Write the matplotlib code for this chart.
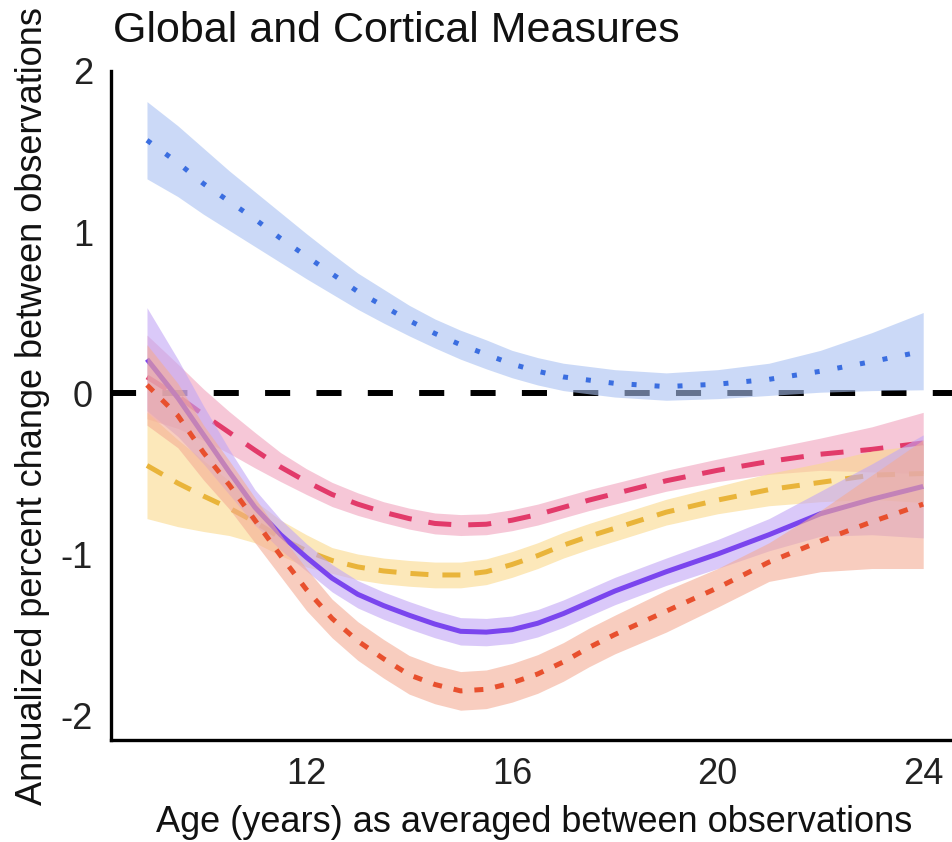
import matplotlib
matplotlib.use("Agg")
import matplotlib.pyplot as plt

plt.rcParams['font.family'] = ['Liberation Sans', 'DejaVu Sans']

ages = [8.9, 9.5, 10, 10.5, 11, 11.5, 12, 12.5, 13, 13.5, 14, 14.5, 15, 15.5, 16,
        16.5, 17, 17.5, 18, 19, 20, 21, 22, 23, 24]

blue_mean = [1.57, 1.43, 1.30, 1.19, 1.08, 0.96, 0.85, 0.74, 0.63, 0.54, 0.45, 0.37, 0.30, 0.24, 0.18,
             0.135, 0.10, 0.08, 0.06, 0.04, 0.055, 0.085, 0.135, 0.195, 0.26]
blue_upper = [1.81, 1.66, 1.52, 1.38, 1.25, 1.12, 0.99, 0.865, 0.745, 0.645, 0.545, 0.46, 0.39, 0.33, 0.265,
              0.22, 0.185, 0.165, 0.145, 0.125, 0.145, 0.185, 0.265, 0.375, 0.50]
blue_lower = [1.33, 1.22, 1.11, 1.01, 0.91, 0.81, 0.71, 0.615, 0.52, 0.435, 0.355, 0.28, 0.21, 0.15, 0.095,
              0.05, 0.015, -0.005, -0.025, -0.045, -0.035, -0.015, 0.005, 0.015, 0.02]

pink_mean = [0.10, -0.02, -0.135, -0.245, -0.355, -0.46, -0.55, -0.63, -0.69, -0.74, -0.78, -0.81, -0.82, -0.815, -0.79,
             -0.755, -0.71, -0.665, -0.625, -0.545, -0.48, -0.425, -0.38, -0.35, -0.31]
pink_upper = [0.36, 0.18, 0.025, -0.115, -0.245, -0.37, -0.47, -0.555, -0.62, -0.675, -0.715, -0.745, -0.755, -0.75, -0.725,
              -0.69, -0.645, -0.60, -0.56, -0.48, -0.41, -0.345, -0.28, -0.21, -0.12]
pink_lower = [-0.16, -0.22, -0.295, -0.375, -0.465, -0.55, -0.63, -0.705, -0.76, -0.805, -0.845, -0.875, -0.885, -0.88, -0.855,
              -0.82, -0.775, -0.73, -0.69, -0.61, -0.55, -0.505, -0.48, -0.49, -0.50]

yellow_mean = [-0.45, -0.56, -0.64, -0.715, -0.80, -0.90, -0.98, -1.04, -1.08, -1.105, -1.12, -1.13, -1.13, -1.11, -1.065,
               -1.01, -0.945, -0.89, -0.84, -0.74, -0.665, -0.60, -0.555, -0.51, -0.50]
yellow_upper = [-0.12, -0.29, -0.42, -0.545, -0.67, -0.79, -0.88, -0.96, -1.00, -1.025, -1.04, -1.05, -1.05, -1.03, -0.985,
                -0.93, -0.865, -0.81, -0.76, -0.66, -0.58, -0.50, -0.435, -0.36, -0.32]
yellow_lower = [-0.78, -0.83, -0.86, -0.885, -0.93, -1.01, -1.08, -1.12, -1.16, -1.185, -1.20, -1.21, -1.21, -1.19, -1.145,
                -1.09, -1.025, -0.97, -0.92, -0.82, -0.75, -0.70, -0.675, -0.66, -0.68]

purple_mean = [0.21, -0.03, -0.26, -0.49, -0.71, -0.88, -1.02, -1.15, -1.25, -1.32, -1.38, -1.435, -1.48, -1.485, -1.47,
               -1.43, -1.37, -1.30, -1.23, -1.11, -1.00, -0.88, -0.75, -0.66, -0.58]
purple_upper = [0.53, 0.21, -0.08, -0.35, -0.60, -0.785, -0.935, -1.065, -1.165, -1.235, -1.295, -1.35, -1.395, -1.40, -1.385,
                -1.345, -1.285, -1.215, -1.145, -1.025, -0.91, -0.78, -0.61, -0.44, -0.26]
purple_lower = [-0.11, -0.27, -0.44, -0.63, -0.82, -0.975, -1.105, -1.235, -1.335, -1.405, -1.465, -1.52, -1.565, -1.57, -1.555,
                -1.515, -1.455, -1.385, -1.315, -1.195, -1.09, -0.98, -0.89, -0.88, -0.90]

red_mean = [0.05, -0.14, -0.37, -0.57, -0.79, -1.01, -1.22, -1.40, -1.54, -1.65, -1.75, -1.81, -1.85, -1.84, -1.80,
            -1.745, -1.67, -1.58, -1.50, -1.355, -1.21, -1.05, -0.92, -0.80, -0.69]
red_upper = [0.30, 0.06, -0.20, -0.42, -0.65, -0.88, -1.09, -1.28, -1.42, -1.53, -1.63, -1.69, -1.73, -1.72, -1.68,
             -1.625, -1.55, -1.46, -1.38, -1.225, -1.09, -0.93, -0.73, -0.51, -0.29]
red_lower = [-0.20, -0.34, -0.54, -0.72, -0.93, -1.14, -1.35, -1.52, -1.66, -1.77, -1.87, -1.93, -1.97, -1.96, -1.92,
             -1.865, -1.79, -1.70, -1.62, -1.485, -1.33, -1.17, -1.11, -1.09, -1.09]

x_ticks = [12, 16, 20, 24]
y_ticks = [-2, -1, 0, 1, 2]

title = "Global and Cortical Measures"
xlabel = "Age (years) as averaged between observations"
ylabel = "Annualized percent change between observations"

fig = plt.figure(figsize=(9.52, 8.42), dpi=100)
ax = fig.add_axes([111/952, 1 - 740/842, 1 - 111/952, (740 - 71)/842])

ax.axhline(0, color='black', lw=4.3, linestyle=(0, (4.2, 4.4)), zorder=1)

series = [
    (blue_mean, blue_lower, blue_upper, '#3B6EE0', '#A9C1F2', (0, (1.0, 3.6))),
    (pink_mean, pink_lower, pink_upper, '#E23A6A', '#F0A3BD', (0, (4.6, 3.4))),
    (yellow_mean, yellow_lower, yellow_upper, '#E9B43A', '#FBD98C', (0, (3.6, 2.8))),
    (purple_mean, purple_lower, purple_upper, '#7A45EE', '#C2A6F5', '-'),
    (red_mean, red_lower, red_upper, '#E8502E', '#F4AC95', (0, (1.8, 2.4))),
]

z = 2
for mean, lo, hi, lc, bc, ls in series:
    ax.fill_between(ages, lo, hi, color=bc, alpha=0.6, lw=0, zorder=z)
    ax.plot(ages, mean, color=lc, lw=3.6, linestyle=ls, zorder=z + 1,
            dash_capstyle='butt', solid_capstyle='butt', solid_joinstyle='round')
    z += 2

ax.set_xlim(8.20, 24.56)
ax.set_ylim(-2.155, 2.0)
ax.set_xticks(x_ticks)
ax.set_yticks(y_ticks)
ax.set_yticklabels([str(v) for v in y_ticks])
ax.tick_params(axis='both', length=0, labelsize=26, colors='#222222')
ax.tick_params(axis='y', pad=13)
ax.tick_params(axis='x', pad=12)
for s in ['top', 'right']:
    ax.spines[s].set_visible(False)
for s in ['left', 'bottom']:
    ax.spines[s].set_linewidth(2.4)
    ax.spines[s].set_color('black')

ax.set_xlabel(xlabel, fontsize=26, color='#111111')
ax.set_ylabel(ylabel, fontsize=26, color='#111111')
ax.yaxis.set_label_coords(-0.0725, 0.499)
ax.xaxis.set_label_coords(0.5036, -0.097)

fig.text(113/952, 1 - 42/842, title, fontsize=31, color='#111111', ha='left', va='baseline')

fig.savefig("out.png", dpi=100)
